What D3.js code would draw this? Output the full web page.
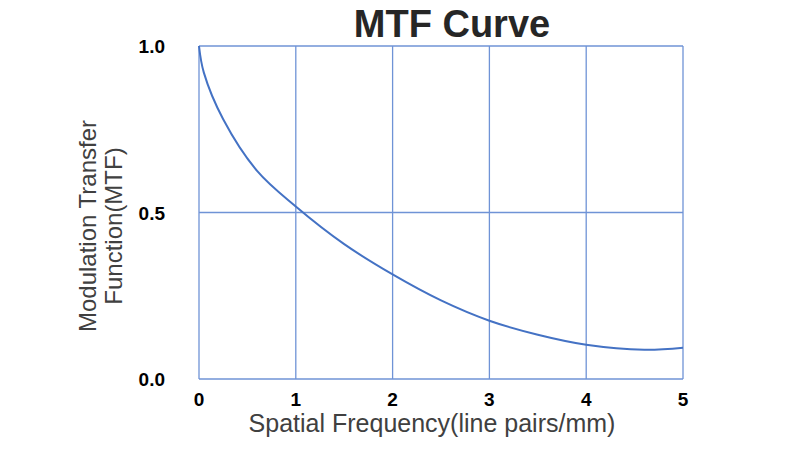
<!DOCTYPE html><html><head><script src="https://cdn.jsdelivr.net/npm/d3@7"></script>
<style>body{margin:0;background:#fff}</style></head><body><svg width="800" height="450"></svg>
<script>
const freq = [0,0.05,0.25,0.6,1,1.5,2,2.5,3,3.5,4,4.6,5];
const mtf  = [1,0.92,0.78,0.625,0.518,0.405,0.314,0.236,0.175,0.133,0.103,0.088,0.094];
const xTicks=[0,1,2,3,4,5], yTicks=[0,0.5,1];
const yLabels=["0.0","0.5","1.0"];
const svg=d3.select("svg");
const x=d3.scaleLinear().domain([0,5]).range([199,683]);
const y=d3.scaleLinear().domain([0,1]).range([379,46]);
const grid="#6f93d6";
svg.append("g").selectAll("line").data(xTicks).join("line")
 .attr("x1",d=>x(d)).attr("x2",d=>x(d)).attr("y1",y(0)).attr("y2",y(1)).attr("stroke",grid).attr("stroke-width",1.3);
svg.append("g").selectAll("line").data(yTicks).join("line")
 .attr("x1",x(0)).attr("x2",x(5)).attr("y1",d=>y(d)).attr("y2",d=>y(d)).attr("stroke",grid).attr("stroke-width",1.3);
svg.append("path").datum(freq.map((f,i)=>[f,mtf[i]])).attr("fill","none").attr("stroke","#4472c4").attr("stroke-width",2)
 .attr("d",d3.line().x(d=>x(d[0])).y(d=>y(d[1])).curve(d3.curveCatmullRom.alpha(0.5)));
const f="Liberation Sans, Arial, sans-serif";
svg.append("g").selectAll("text").data(xTicks).join("text").attr("x",d=>x(d)).attr("y",406).attr("text-anchor","middle")
 .attr("font-family",f).attr("font-weight","bold").attr("font-size",19).text(d=>d);
svg.append("g").selectAll("text").data(yTicks).join("text").attr("x",165).attr("y",d=>y(d)+7).attr("text-anchor","end")
 .attr("font-family",f).attr("font-weight","bold").attr("font-size",19).text((d,i)=>yLabels[i]);
svg.append("text").attr("x",452).attr("y",37).attr("text-anchor","middle").attr("font-family",f).attr("font-weight","bold").attr("font-size",38).attr("fill","#262626").text("MTF Curve");
svg.append("text").attr("x",432).attr("y",432).attr("text-anchor","middle").attr("font-family",f).attr("font-size",25).attr("fill","#404040").text("Spatial Frequency(line pairs/mm)");
const yl=svg.append("text").attr("transform","translate(96,226) rotate(-90)").attr("text-anchor","middle").attr("font-family",f).attr("font-size",24).attr("fill","#404040");
yl.append("tspan").attr("x",0).attr("dy",0).text("Modulation Transfer");
yl.append("tspan").attr("x",0).attr("dy",26).text("Function(MTF)");
</script></body></html>
